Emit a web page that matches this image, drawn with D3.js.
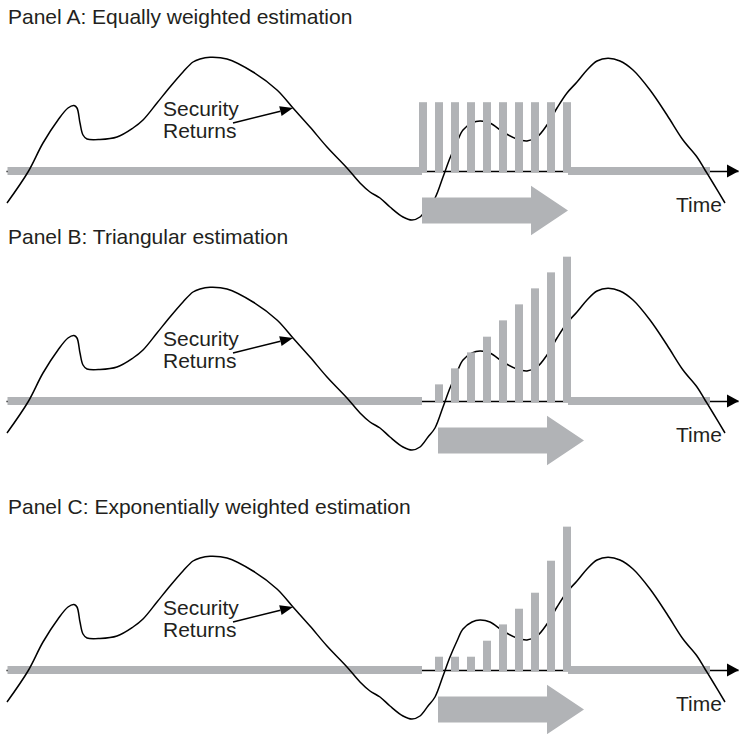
<!DOCTYPE html>
<html>
<head>
<meta charset="utf-8">
<script src="https://cdn.jsdelivr.net/npm/d3@7/dist/d3.min.js"></script>
<style>
  html, body { margin: 0; padding: 0; background: #fff; }
  svg { display: block; }
  text { font-family: "Liberation Sans", Arial, Helvetica, sans-serif; fill: #231f20; }
</style>
</head>
<body>
<div id="chart"></div>
<script>
// ---------------- DATA ----------------
const panelTitles = [
  "Panel A: Equally weighted estimation",
  "Panel B: Triangular estimation",
  "Panel C: Exponentially weighted estimation"
];
const curveLabel = ["Security", "Returns"];
const axisLabel = "Time";

// Security returns path (time units, return units)
const timeSeries = [
  0.1, 2.2, 3.7, 5.2, 6.2, 6.8, 7.1, 7.4, 7.7, 8.1, 9.4, 11.1, 12.7, 13.7, 15.1, 16.4,
  17.7, 18.7, 19.4, 20.4, 22.1, 24.7, 27.1, 28.7, 30.4, 32.1, 34.1, 35.4, 36.4, 37.4,
  38.4, 39.7, 40.6, 41.4, 42.2, 42.9, 43.7, 44.4, 45.1, 45.7, 46.6, 47.4, 48.4, 49.7,
  51.1, 52.1, 53.1, 54.1, 55.1, 56.1, 57.1, 58.1, 59.1, 60.2, 61.4, 62.7, 64.4, 66.1,
  67.7, 69.1, 69.9, 70.7, 71.9
];
const returnSeries = [
  -3.2, -0.1, 2.8, 5.1, 6.3, 6.55, 6.3, 4.8, 3.6, 3.2, 3.15, 3.4, 4.3, 5.1, 6.8, 8.4,
  9.9, 10.9, 11.2, 11.37, 11.2, 9.9, 8.1, 6.3, 4.4, 2.4, 0.3, -1.2, -2.1, -2.7,
  -3.6, -4.6, -4.9, -4.6, -3.6, -2.7, -0.6, 1.3, 2.9, 4.1, 4.8, 5.0, 4.8, 3.9,
  3.2, 3.0, 3.4, 4.6, 6.3, 7.8, 8.9, 10.1, 11.0, 11.27, 11.0, 10.1, 8.1, 5.6,
  3.1, 1.4, 0.1, -1.2, -3.2
];

// Estimation window observations and their weights
const observations = ["t-9", "t-8", "t-7", "t-6", "t-5", "t-4", "t-3", "t-2", "t-1", "t"];
const weightsEqual       = [4.3, 4.3, 4.3, 4.3, 4.3, 4.3, 4.3, 4.3, 4.3, 4.3];
const weightsTriangular  = [0, 1.04, 2.04, 3.04, 4.02, 5.04, 6.04, 7.04, 8.04, 9.02];
const weightsExponential = [0, 0.83, 0.83, 0.83, 1.83, 2.85, 3.83, 4.83, 6.83, 8.96];
const panelWeights = [weightsEqual, weightsTriangular, weightsExponential];

// ---------------- LAYOUT ----------------
const W = 740, H = 734;
const layout = {
  axisY: [171, 401, 670],
  titleY: [24, 244, 514],
  titleX: 8,
  timeDomain: [0, 73.2],
  timeRange: [6, 738],
  bandLeft: [0.15, 41.6],
  bandRight: [56.2, 70.4],
  barRange: [419, 571],
  labelPos: { t: 15.7, dy: [-55.5, -33.5] },
  pointerFrom: { t: 22.7, r: 4.8 },
  pointerTo: { t: 28.7, r: 6.3 },
  timeLabel: { x: 676, dy: 41 }
};
const gray = "#b1b3b6";
const ink = "#000";

const svg = d3.select("#chart").append("svg").attr("width", W).attr("height", H);

const x = d3.scaleLinear().domain(layout.timeDomain).range(layout.timeRange);
const xBar = d3.scaleBand().domain(observations).range(layout.barRange)
  .paddingInner(0.5).paddingOuter(0);
const wScale = d3.scaleLinear().domain([0, 10]).range([0, 160]);

const idx = d3.range(timeSeries.length);

panelWeights.forEach((weights, p) => {
  const ay = layout.axisY[p];
  const y = d3.scaleLinear().domain([-6, 12]).range([ay + 60, ay - 120]);
  const g = svg.append("g");

  // Title
  g.append("text").attr("x", layout.titleX).attr("y", layout.titleY[p])
    .attr("font-size", 21).text(panelTitles[p]);

  // Black time axis line via d3 axis
  const axisG = g.append("g").attr("transform", `translate(0,${ay})`)
    .call(d3.axisBottom(x).ticks(0).tickSizeOuter(0));
  axisG.select(".domain").attr("stroke", ink).attr("stroke-width", 1.3);
  axisG.selectAll(".tick").remove();

  // Gray bands
  [layout.bandLeft, layout.bandRight].forEach(seg => {
    g.append("rect")
      .attr("x", x(seg[0])).attr("y", ay - 4)
      .attr("width", x(seg[1]) - x(seg[0])).attr("height", 8)
      .attr("fill", gray);
  });

  // Security returns curve
  const line = d3.line()
    .x(i => x(timeSeries[i]))
    .y(i => y(returnSeries[i]))
    .curve(d3.curveCatmullRom.alpha(0.5));
  g.append("path").attr("d", line(idx))
    .attr("fill", "none").attr("stroke", ink).attr("stroke-width", 1.5);

  // Weight bars
  g.selectAll("rect.bar").data(observations.map((o, i) => ({ o, w: weights[i] })))
    .join("rect").attr("class", "bar")
    .filter(d => d.w > 0)
    .attr("x", d => xBar(d.o))
    .attr("width", xBar.bandwidth())
    .attr("y", d => ay - wScale(d.w))
    .attr("height", d => wScale(d.w) + 1.5)
    .attr("fill", gray);

  // Big gray direction arrow
  const firstIdx = weights.findIndex(w => w > 0);
  const x0 = xBar(observations[firstIdx]) + 3;
  const cy = ay + 39.5;
  const shaft = 109, len = 146, th = 13, hh = 24.7;
  const arrowPath = d3.path();
  arrowPath.moveTo(x0, cy - th);
  arrowPath.lineTo(x0 + shaft, cy - th);
  arrowPath.lineTo(x0 + shaft, cy - hh);
  arrowPath.lineTo(x0 + len, cy);
  arrowPath.lineTo(x0 + shaft, cy + hh);
  arrowPath.lineTo(x0 + shaft, cy + th);
  arrowPath.lineTo(x0, cy + th);
  arrowPath.closePath();
  g.append("path").attr("d", arrowPath.toString()).attr("fill", gray);

  // Axis arrowhead
  const tipX = x(layout.timeDomain[1]) + 1;
  g.append("path")
    .attr("d", `M${tipX},${ay} L${tipX - 12},${ay - 6.5} L${tipX - 12},${ay + 6.5} Z`)
    .attr("fill", ink);

  // Time label
  g.append("text").attr("x", layout.timeLabel.x).attr("y", ay + layout.timeLabel.dy)
    .attr("font-size", 21).text(axisLabel);

  // Security Returns label
  curveLabel.forEach((s, k) => {
    g.append("text").attr("x", x(layout.labelPos.t)).attr("y", ay + layout.labelPos.dy[k])
      .attr("font-size", 21).text(s);
  });

  // Pointer arrow
  const fx = x(layout.pointerFrom.t), fy = y(layout.pointerFrom.r);
  const tx = x(layout.pointerTo.t), ty = y(layout.pointerTo.r);
  const ang = Math.atan2(ty - fy, tx - fx);
  const hl = 13, hw = 5;
  const bx = tx - hl * Math.cos(ang), by = ty - hl * Math.sin(ang);
  g.append("line").attr("x1", fx).attr("y1", fy).attr("x2", bx).attr("y2", by)
    .attr("stroke", ink).attr("stroke-width", 1.6);
  g.append("path")
    .attr("d", `M${tx},${ty} L${bx + hw * Math.sin(ang)},${by - hw * Math.cos(ang)} L${bx - hw * Math.sin(ang)},${by + hw * Math.cos(ang)} Z`)
    .attr("fill", ink);
});
</script>
</body>
</html>
